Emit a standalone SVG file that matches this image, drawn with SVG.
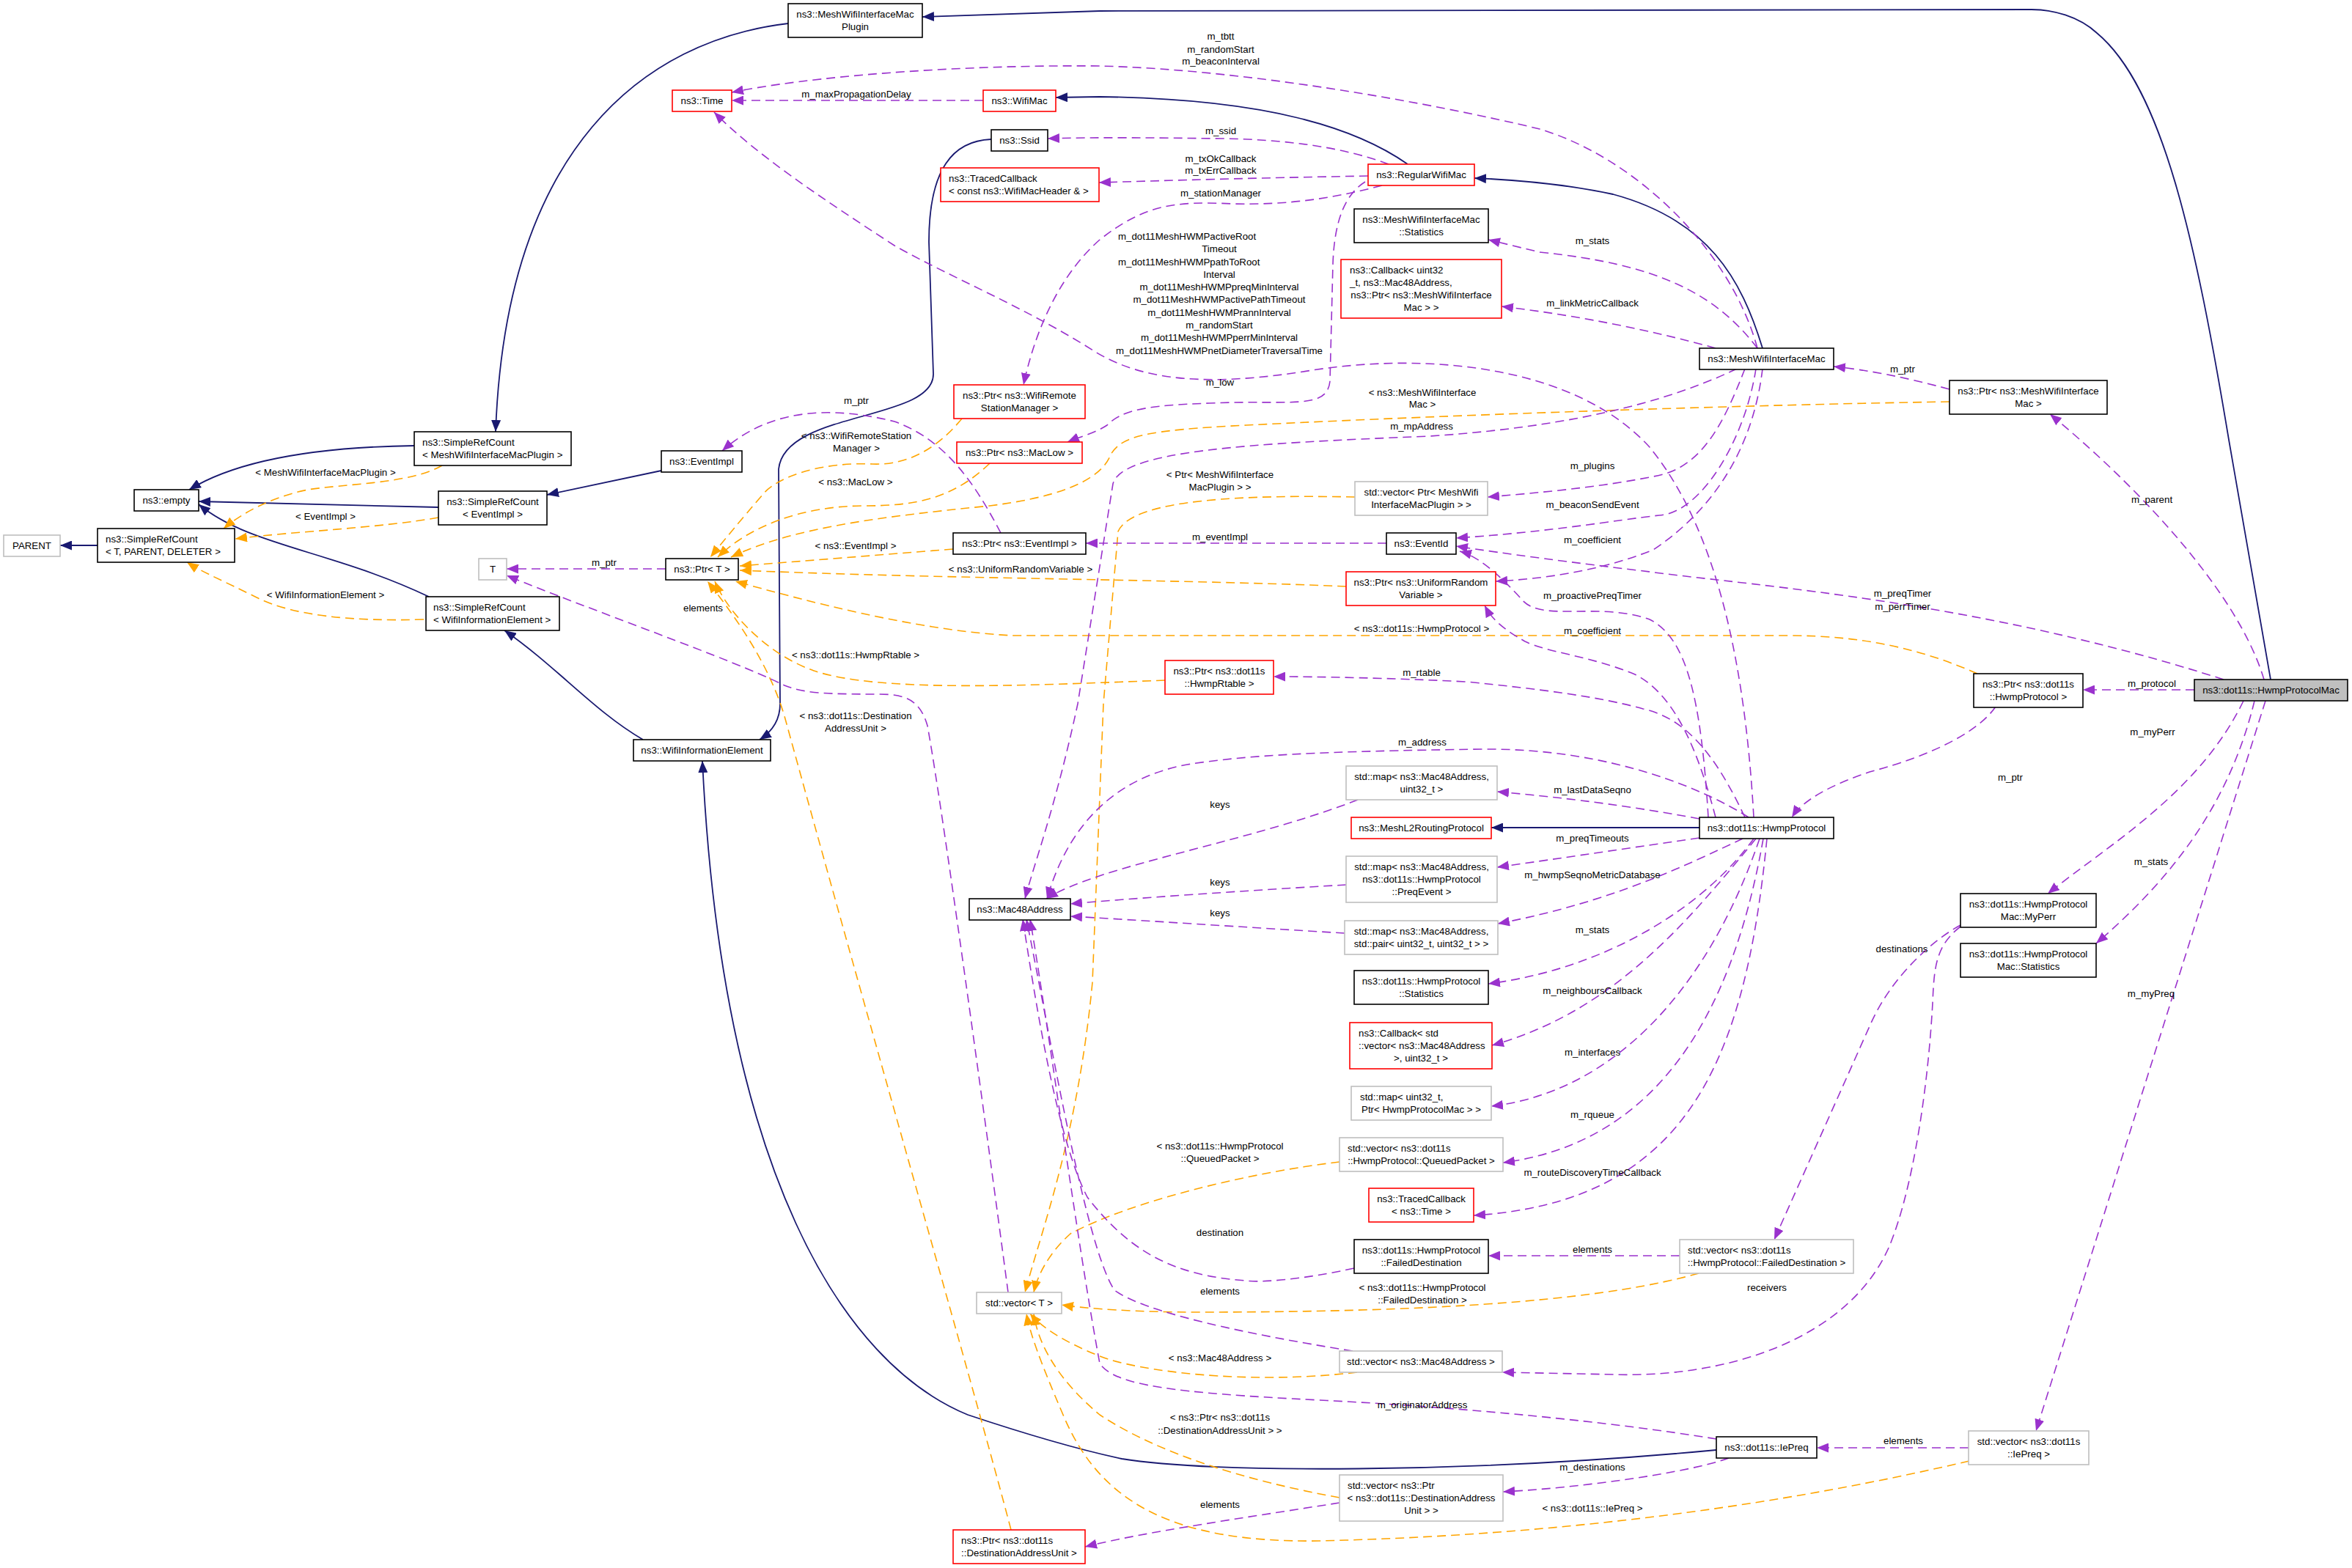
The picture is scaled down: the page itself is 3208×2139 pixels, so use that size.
<svg xmlns="http://www.w3.org/2000/svg" width="3208" height="2139" viewBox="0 0 3208 2139">
<style>
text{font-family:"Liberation Sans",Arial,Helvetica,sans-serif;font-size:13.3px;fill:#000}
.c{text-anchor:middle}
.b{fill:#fff;stroke:#000;stroke-width:1.6}
.r{fill:#fff;stroke:#ff0000;stroke-width:1.6}
.g{fill:#fff;stroke:#bfbfbf;stroke-width:1.6}
.h{fill:#bfbfbf;stroke:#000;stroke-width:1.6}
.inh{fill:none;stroke:#191970;stroke-width:1.8;marker-end:url(#ai)}
.use{fill:none;stroke:#9a32cd;stroke-width:1.6;stroke-dasharray:12,7;marker-end:url(#au)}
.tpl{fill:none;stroke:#ffa500;stroke-width:1.6;stroke-dasharray:12,7;marker-end:url(#at)}
</style>
<defs>
<marker id="ai" markerUnits="userSpaceOnUse" markerWidth="17" markerHeight="13" refX="16" refY="6.5" orient="auto"><path d="M0,0 L16,6.5 L0,13 z" fill="#191970" stroke="none"/></marker>
<marker id="au" markerUnits="userSpaceOnUse" markerWidth="17" markerHeight="13" refX="16" refY="6.5" orient="auto"><path d="M0,0 L16,6.5 L0,13 z" fill="#9a32cd" stroke="none"/></marker>
<marker id="at" markerUnits="userSpaceOnUse" markerWidth="17" markerHeight="13" refX="16" refY="6.5" orient="auto"><path d="M0,0 L16,6.5 L0,13 z" fill="#ffa500" stroke="none"/></marker>
</defs>
<rect width="3208" height="2139" fill="#fff"/>

<g id="edges">
<!-- inheritance -->
<path class="inh" d="M3097,927 L3040,600 C2995,330 2950,120 2860,45 C2835,22 2800,13 2771,13 L1500,15 L1258,23"/>
<path class="inh" d="M1920,224 C1850,175 1730,135 1500,132 L1440,133"/>
<path class="inh" d="M2404,475 C2375,380 2330,300 2200,265 C2130,250 2060,245 2011,243"/>
<path class="inh" d="M2318,1129 L2034,1129"/>
<path class="inh" d="M1352,190 C1300,192 1267,230 1267,330 L1273,510 C1274,575 1070,560 1062,640 L1064,960 C1064,985 1050,1000 1036,1009"/>
<path class="inh" d="M1075,32 C880,55 690,200 676,589"/>
<path class="inh" d="M565,608 C420,610 320,630 258,668"/>
<path class="inh" d="M598,692 L271,684"/>
<path class="inh" d="M902,642 L746,675"/>
<path class="inh" d="M585,814 C450,750 340,745 271,688"/>
<path class="inh" d="M877,1009 C810,970 760,910 688,860"/>
<path class="inh" d="M133,744 L82,744"/>
<path class="inh" d="M2341,1978 C2000,2010 1650,2010 1530,1990 C1460,1975 1380,1950 1320,1930 C1150,1860 985,1600 958,1038"/>

<!-- template instances -->
<path class="tpl" d="M603,635 C560,660 470,660 420,668 C370,678 330,700 305,721"/>
<path class="tpl" d="M598,706 C520,720 400,725 321,735"/>
<path class="tpl" d="M578,845 C480,848 400,840 350,815 C310,795 275,780 255,767"/>
<path class="tpl" d="M1312,571 C1280,610 1240,635 1190,633 C1120,630 1060,650 1040,675 C1010,710 985,740 969,760"/>
<path class="tpl" d="M1350,632 C1300,680 1250,690 1180,690 C1090,690 1020,720 979,760"/>
<path class="tpl" d="M2659,548 C2400,552 2000,565 1700,580 C1560,587 1530,595 1515,620 C1500,660 1430,680 1350,690 C1200,705 1080,720 997,760"/>
<path class="tpl" d="M1300,749 C1200,757 1100,765 1009,772"/>
<path class="tpl" d="M1836,800 C1600,790 1300,790 1009,778"/>
<path class="tpl" d="M2697,919 C2620,885 2540,867 2440,867 L1380,867 C1250,860 1100,820 1003,793"/>
<path class="tpl" d="M1589,928 C1400,935 1200,945 1110,915 C1040,890 990,830 975,793"/>
<path class="tpl" d="M1379,2087 C1330,1900 1200,1450 1070,977 C1050,910 1010,850 965,793"/>
<path class="tpl" d="M1848,678 C1700,675 1545,680 1525,725 L1505,960 L1490,1340 C1470,1550 1420,1680 1398,1763"/>
<path class="tpl" d="M1827,1585 C1700,1600 1540,1640 1460,1683 C1430,1710 1415,1740 1410,1763"/>
<path class="tpl" d="M2317,1737 C2200,1770 2000,1790 1634,1790 C1550,1790 1480,1785 1448,1780"/>
<path class="tpl" d="M1851,1872 C1700,1890 1550,1870 1500,1850 C1450,1830 1420,1810 1405,1792"/>
<path class="tpl" d="M1827,2043 C1700,2020 1580,1983 1500,1930 C1440,1880 1415,1830 1410,1792"/>
<path class="tpl" d="M2686,1993 C2400,2060 2100,2095 1800,2102 C1600,2105 1500,2050 1450,1930 C1420,1860 1405,1820 1400,1792"/>

<!-- usage -->
<path class="use" d="M2397,475 C2360,340 2230,215 2100,176 C1950,140 1700,95 1500,90 C1300,88 1100,105 998,126"/>
<path class="use" d="M1341,137 L998,137"/>
<path class="use" d="M1894,224 C1830,200 1750,190 1665,189 C1580,188 1500,187 1429,189"/>
<path class="use" d="M1866,240 C1700,243 1600,246 1499,249"/>
<path class="use" d="M1885,253 C1820,270 1760,280 1680,278 C1600,274 1560,280 1500,327 C1440,380 1410,460 1396,525"/>
<path class="use" d="M1862,248 C1835,265 1820,300 1818,360 L1814,520 C1810,560 1760,545 1650,550 C1560,553 1530,560 1510,580 C1495,590 1470,597 1456,603"/>
<path class="use" d="M2397,475 C2340,400 2260,360 2100,344 L2030,327"/>
<path class="use" d="M2340,475 C2250,450 2150,430 2048,418"/>
<path class="use" d="M2369,503 C2250,560 2100,585 1950,595 C1700,605 1530,615 1518,660 L1470,960 C1440,1100 1410,1180 1398,1226"/>
<path class="use" d="M2380,503 C2350,580 2320,640 2255,650 C2180,665 2100,672 2029,678"/>
<path class="use" d="M2395,503 C2380,600 2320,700 2263,703 C2200,710 2120,725 1986,734"/>
<path class="use" d="M2404,503 C2390,620 2330,700 2255,750 C2180,780 2100,790 2040,793"/>
<path class="use" d="M2659,531 C2600,515 2550,505 2501,500"/>
<path class="use" d="M3088,927 C3050,800 2900,650 2796,565"/>
<path class="use" d="M3033,927 C2700,820 2400,800 2250,780 C2150,768 2050,755 1986,745"/>
<path class="use" d="M2993,941 L2841,941"/>
<path class="use" d="M2330,1115 C2320,950 2300,870 2250,845 C2180,820 2100,850 2075,817 C2050,790 2020,760 1991,752"/>
<path class="use" d="M2340,1115 C2320,1040 2290,950 2230,920 C2170,895 2110,890 2080,875 C2050,858 2035,845 2025,826"/>
<path class="use" d="M2380,1115 C2340,1030 2300,980 2241,967 C2180,950 2100,940 2000,930 C1900,925 1800,923 1737,923"/>
<path class="use" d="M2392,1115 C2380,900 2340,720 2250,610 C2150,500 1950,480 1790,505 C1650,528 1560,520 1494,480 C1400,420 1300,380 1220,335 C1120,270 1030,210 974,153"/>
<path class="use" d="M2385,1115 C2330,1080 2200,1020 2020,1022 C1800,1025 1700,1030 1619,1043 C1500,1065 1450,1150 1428,1226"/>
<path class="use" d="M2318,1117 C2200,1095 2100,1085 2042,1080"/>
<path class="use" d="M2722,964 C2690,1010 2600,1040 2550,1053 C2500,1070 2460,1090 2444,1115"/>
<path class="use" d="M2318,1143 C2200,1160 2100,1175 2042,1183"/>
<path class="use" d="M2377,1144 C2300,1180 2200,1230 2043,1260"/>
<path class="use" d="M2392,1144 C2330,1230 2200,1320 2030,1342"/>
<path class="use" d="M2395,1144 C2300,1260 2200,1380 2035,1426"/>
<path class="use" d="M2400,1144 C2330,1350 2200,1490 2034,1509"/>
<path class="use" d="M2405,1144 C2360,1400 2250,1560 2050,1586"/>
<path class="use" d="M2410,1144 C2380,1450 2300,1640 2010,1658"/>
<path class="use" d="M3060,956 C3000,1080 2880,1150 2793,1219"/>
<path class="use" d="M3075,956 C3040,1100 2960,1200 2859,1287"/>
<path class="use" d="M3090,956 L2777,1952"/>
<path class="use" d="M2674,1262 C2640,1280 2580,1330 2550,1400 L2420,1691"/>
<path class="use" d="M2674,1264 C2640,1290 2638,1320 2636,1368 C2630,1480 2610,1620 2577,1700 C2520,1830 2350,1880 2200,1875 L2049,1872"/>
<path class="use" d="M2291,1713 L2030,1713"/>
<path class="use" d="M1847,1730 C1780,1745 1720,1750 1699,1747 C1600,1740 1540,1707 1483,1633 C1440,1550 1410,1350 1395,1254"/>
<path class="use" d="M1845,1843 C1700,1820 1560,1790 1520,1760 C1480,1700 1430,1400 1400,1254"/>
<path class="use" d="M2341,1963 C2200,1940 2000,1920 1800,1910 C1600,1900 1520,1890 1500,1860 C1470,1700 1430,1400 1405,1254"/>
<path class="use" d="M2358,1989 C2300,2010 2150,2030 2050,2035"/>
<path class="use" d="M1827,2050 C1700,2070 1560,2090 1480,2110"/>
<path class="use" d="M2685,1975 L2478,1975"/>
<path class="use" d="M1852,1091 C1700,1150 1500,1180 1427,1226"/>
<path class="use" d="M1836,1207 C1700,1215 1550,1225 1460,1233"/>
<path class="use" d="M1834,1273 C1700,1265 1550,1255 1460,1250"/>
<path class="use" d="M1365,727 C1330,660 1290,600 1220,575 C1100,545 1030,575 985,615"/>
<path class="use" d="M1891,741 L1481,741"/>
<path class="use" d="M908,776 L691,776"/>
<path class="use" d="M1375,1763 C1340,1500 1285,1100 1265,990 C1255,955 1235,947 1200,947 C1120,947 1095,945 1070,935 C1000,900 800,830 691,785"/>

<!-- edge labels -->
<text class="c" x="1665" y="54">m_tbtt</text>
<text class="c" x="1665" y="72">m_randomStart</text>
<text class="c" x="1665" y="88">m_beaconInterval</text>
<text class="c" x="1168" y="133">m_maxPropagationDelay</text>
<text class="c" x="1665" y="183">m_ssid</text>
<text class="c" x="1665" y="221">m_txOkCallback</text>
<text class="c" x="1665" y="237">m_txErrCallback</text>
<text class="c" x="1665" y="268">m_stationManager</text>
<text x="1525" y="327">m_dot11MeshHWMPactiveRoot</text>
<text class="c" x="1663" y="344">Timeout</text>
<text x="1525" y="362">m_dot11MeshHWMPpathToRoot</text>
<text class="c" x="1663" y="379">Interval</text>
<text class="c" x="1663" y="396">m_dot11MeshHWMPpreqMinInterval</text>
<text class="c" x="1663" y="413">m_dot11MeshHWMPactivePathTimeout</text>
<text class="c" x="1663" y="431">m_dot11MeshHWMPrannInterval</text>
<text class="c" x="1663" y="448">m_randomStart</text>
<text class="c" x="1663" y="465">m_dot11MeshHWMPperrMinInterval</text>
<text class="c" x="1663" y="483">m_dot11MeshHWMPnetDiameterTraversalTime</text>
<text class="c" x="2172" y="333">m_stats</text>
<text class="c" x="2172" y="418">m_linkMetricCallback</text>
<text class="c" x="2595" y="508">m_ptr</text>
<text class="c" x="1664" y="526">m_low</text>
<text class="c" x="1940" y="540">&lt; ns3::MeshWifiInterface</text>
<text class="c" x="1940" y="556">Mac &gt;</text>
<text class="c" x="1939" y="586">m_mpAddress</text>
<text class="c" x="1168" y="599">&lt; ns3::WifiRemoteStation</text>
<text class="c" x="1168" y="616">Manager &gt;</text>
<text class="c" x="1168" y="551">m_ptr</text>
<text class="c" x="444" y="649">&lt; MeshWifiInterfaceMacPlugin &gt;</text>
<text class="c" x="444" y="709">&lt; EventImpl &gt;</text>
<text class="c" x="444" y="816">&lt; WifiInformationElement &gt;</text>
<text class="c" x="824" y="772">m_ptr</text>
<text class="c" x="959" y="834">elements</text>
<text class="c" x="1167" y="662">&lt; ns3::MacLow &gt;</text>
<text class="c" x="1664" y="652">&lt; Ptr&lt; MeshWifiInterface</text>
<text class="c" x="1664" y="669">MacPlugin &gt; &gt;</text>
<text class="c" x="2172" y="640">m_plugins</text>
<text class="c" x="2172" y="693">m_beaconSendEvent</text>
<text class="c" x="2935" y="686">m_parent</text>
<text class="c" x="1664" y="737">m_eventImpl</text>
<text class="c" x="2172" y="741">m_coefficient</text>
<text class="c" x="1167" y="749">&lt; ns3::EventImpl &gt;</text>
<text class="c" x="1392" y="781">&lt; ns3::UniformRandomVariable &gt;</text>
<text class="c" x="2172" y="817">m_proactivePreqTimer</text>
<text class="c" x="2595" y="814">m_preqTimer</text>
<text class="c" x="2595" y="832">m_perrTimer</text>
<text class="c" x="1939" y="862">&lt; ns3::dot11s::HwmpProtocol &gt;</text>
<text class="c" x="2172" y="865">m_coefficient</text>
<text class="c" x="1167" y="898">&lt; ns3::dot11s::HwmpRtable &gt;</text>
<text class="c" x="1939" y="922">m_rtable</text>
<text class="c" x="2935" y="937">m_protocol</text>
<text class="c" x="1167" y="981">&lt; ns3::dot11s::Destination</text>
<text class="c" x="1167" y="998">AddressUnit &gt;</text>
<text class="c" x="2936" y="1003">m_myPerr</text>
<text class="c" x="1940" y="1017">m_address</text>
<text class="c" x="2742" y="1065">m_ptr</text>
<text class="c" x="2172" y="1082">m_lastDataSeqno</text>
<text class="c" x="1664" y="1102">keys</text>
<text class="c" x="2172" y="1148">m_preqTimeouts</text>
<text class="c" x="2934" y="1180">m_stats</text>
<text class="c" x="2172" y="1198">m_hwmpSeqnoMetricDatabase</text>
<text class="c" x="1664" y="1208">keys</text>
<text class="c" x="1664" y="1250">keys</text>
<text class="c" x="2172" y="1273">m_stats</text>
<text class="c" x="2594" y="1299">destinations</text>
<text class="c" x="2172" y="1356">m_neighboursCallback</text>
<text class="c" x="2934" y="1360">m_myPreq</text>
<text class="c" x="2172" y="1440">m_interfaces</text>
<text class="c" x="2172" y="1525">m_rqueue</text>
<text class="c" x="1664" y="1568">&lt; ns3::dot11s::HwmpProtocol</text>
<text class="c" x="1664" y="1585">::QueuedPacket &gt;</text>
<text class="c" x="2172" y="1604">m_routeDiscoveryTimeCallback</text>
<text class="c" x="1664" y="1686">destination</text>
<text class="c" x="2172" y="1709">elements</text>
<text class="c" x="2410" y="1761">receivers</text>
<text class="c" x="1664" y="1766">elements</text>
<text class="c" x="1940" y="1761">&lt; ns3::dot11s::HwmpProtocol</text>
<text class="c" x="1940" y="1778">::FailedDestination &gt;</text>
<text class="c" x="1664" y="1857">&lt; ns3::Mac48Address &gt;</text>
<text class="c" x="1940" y="1921">m_originatorAddress</text>
<text class="c" x="1664" y="1938">&lt; ns3::Ptr&lt; ns3::dot11s</text>
<text class="c" x="1664" y="1956">::DestinationAddressUnit &gt; &gt;</text>
<text class="c" x="2596" y="1970">elements</text>
<text class="c" x="2172" y="2006">m_destinations</text>
<text class="c" x="1664" y="2057">elements</text>
<text class="c" x="2172" y="2062">&lt; ns3::dot11s::IePreq &gt;</text>
</g>

<g id="n_plugin"><rect class="b" x="1075" y="5" width="183" height="46"/><text class="c" x="1166.5" y="24">ns3::MeshWifiInterfaceMac</text><text class="c" x="1166.5" y="41">Plugin</text></g>
<g id="n_time"><rect class="r" x="917" y="123" width="81" height="29"/><text class="c" x="957.5" y="142">ns3::Time</text></g>
<g id="n_wifimac"><rect class="r" x="1341" y="123" width="99" height="29"/><text class="c" x="1390.5" y="142">ns3::WifiMac</text></g>
<g id="n_ssid"><rect class="b" x="1352" y="177" width="77" height="29"/><text class="c" x="1390.5" y="196">ns3::Ssid</text></g>
<g id="n_tracedcb_hdr"><rect class="r" x="1283" y="229" width="216" height="46"/><text x="1294" y="248">ns3::TracedCallback</text><text x="1294" y="265">&lt; const ns3::WifiMacHeader &amp; &gt;</text></g>
<g id="n_regularwifimac"><rect class="r" x="1866" y="224" width="145" height="29"/><text class="c" x="1938.5" y="243">ns3::RegularWifiMac</text></g>
<g id="n_mwim_stats"><rect class="b" x="1847" y="285" width="183" height="46"/><text class="c" x="1938.5" y="304">ns3::MeshWifiInterfaceMac</text><text class="c" x="1938.5" y="321">::Statistics</text></g>
<g id="n_callback_metric"><rect class="r" x="1829" y="354" width="219" height="80"/><text x="1841" y="373">ns3::Callback&lt; uint32</text><text x="1841" y="390">_t, ns3::Mac48Address,</text><text class="c" x="1938.5" y="407">ns3::Ptr&lt; ns3::MeshWifiInterface</text><text class="c" x="1938.5" y="424">Mac &gt; &gt;</text></g>
<g id="n_mwim"><rect class="b" x="2318" y="475" width="183" height="29"/><text class="c" x="2409.5" y="494">ns3::MeshWifiInterfaceMac</text></g>
<g id="n_ptr_mwim"><rect class="b" x="2659" y="519" width="215" height="46"/><text class="c" x="2766.5" y="538">ns3::Ptr&lt; ns3::MeshWifiInterface</text><text class="c" x="2766.5" y="555">Mac &gt;</text></g>
<g id="n_ptr_wrsm"><rect class="r" x="1301" y="525" width="179" height="46"/><text class="c" x="1390.5" y="544">ns3::Ptr&lt; ns3::WifiRemote</text><text class="c" x="1390.5" y="561">StationManager &gt;</text></g>
<g id="n_ptr_maclow"><rect class="r" x="1305" y="603" width="171" height="29"/><text class="c" x="1390.5" y="622">ns3::Ptr&lt; ns3::MacLow &gt;</text></g>
<g id="n_src_plugin"><rect class="b" x="565" y="589" width="214" height="46"/><text x="576" y="608">ns3::SimpleRefCount</text><text x="576" y="625">&lt; MeshWifiInterfaceMacPlugin &gt;</text></g>
<g id="n_eventimpl"><rect class="b" x="902" y="615" width="110" height="29"/><text class="c" x="957" y="634">ns3::EventImpl</text></g>
<g id="n_empty"><rect class="b" x="183" y="668" width="88" height="29"/><text class="c" x="227" y="687">ns3::empty</text></g>
<g id="n_src_eventimpl"><rect class="b" x="598" y="670" width="148" height="46"/><text class="c" x="672" y="689">ns3::SimpleRefCount</text><text class="c" x="672" y="706">&lt; EventImpl &gt;</text></g>
<g id="n_parent"><rect class="g" x="5" y="730" width="77" height="29"/><text class="c" x="43.5" y="749">PARENT</text></g>
<g id="n_src_tpd"><rect class="b" x="133" y="721" width="187" height="46"/><text x="144" y="740">ns3::SimpleRefCount</text><text x="144" y="757">&lt; T, PARENT, DELETER &gt;</text></g>
<g id="n_t"><rect class="g" x="653" y="762" width="38" height="29"/><text class="c" x="672" y="781">T</text></g>
<g id="n_ptr_t"><rect class="b" x="908" y="762" width="99" height="29"/><text class="c" x="957.5" y="781">ns3::Ptr&lt; T &gt;</text></g>
<g id="n_src_wie"><rect class="b" x="581" y="814" width="182" height="46"/><text x="591" y="833">ns3::SimpleRefCount</text><text x="591" y="850">&lt; WifiInformationElement &gt;</text></g>
<g id="n_ptr_eventimpl"><rect class="b" x="1300" y="727" width="181" height="29"/><text class="c" x="1390.5" y="746">ns3::Ptr&lt; ns3::EventImpl &gt;</text></g>
<g id="n_vec_plugin"><rect class="g" x="1848" y="657" width="181" height="46"/><text class="c" x="1938.5" y="676">std::vector&lt; Ptr&lt; MeshWifi</text><text class="c" x="1938.5" y="693">InterfaceMacPlugin &gt; &gt;</text></g>
<g id="n_eventid"><rect class="b" x="1891" y="727" width="95" height="29"/><text class="c" x="1938.5" y="746">ns3::EventId</text></g>
<g id="n_ptr_urv"><rect class="r" x="1836" y="780" width="204" height="46"/><text class="c" x="1938" y="799">ns3::Ptr&lt; ns3::UniformRandom</text><text class="c" x="1938" y="816">Variable &gt;</text></g>
<g id="n_ptr_rtable"><rect class="r" x="1589" y="901" width="148" height="46"/><text class="c" x="1663" y="920">ns3::Ptr&lt; ns3::dot11s</text><text class="c" x="1663" y="937">::HwmpRtable &gt;</text></g>
<g id="n_ptr_hwmp"><rect class="b" x="2692" y="919" width="149" height="46"/><text class="c" x="2766.5" y="938">ns3::Ptr&lt; ns3::dot11s</text><text class="c" x="2766.5" y="955">::HwmpProtocol &gt;</text></g>
<g id="n_hwmpmac"><rect class="h" x="2993" y="927" width="209" height="29"/><text class="c" x="3097.5" y="946">ns3::dot11s::HwmpProtocolMac</text></g>
<g id="n_wie"><rect class="b" x="864" y="1009" width="187" height="29"/><text class="c" x="957.5" y="1028">ns3::WifiInformationElement</text></g>
<g id="n_map_seqno"><rect class="g" x="1836" y="1045" width="206" height="46"/><text class="c" x="1939" y="1064">std::map&lt; ns3::Mac48Address,</text><text class="c" x="1939" y="1081">uint32_t &gt;</text></g>
<g id="n_meshl2"><rect class="r" x="1843" y="1115" width="191" height="29"/><text class="c" x="1938.5" y="1134">ns3::MeshL2RoutingProtocol</text></g>
<g id="n_hwmp"><rect class="b" x="2318" y="1115" width="183" height="29"/><text class="c" x="2409.5" y="1134">ns3::dot11s::HwmpProtocol</text></g>
<g id="n_map_preq"><rect class="g" x="1836" y="1168" width="206" height="63"/><text class="c" x="1939" y="1187">std::map&lt; ns3::Mac48Address,</text><text class="c" x="1939" y="1204">ns3::dot11s::HwmpProtocol</text><text class="c" x="1939" y="1221">::PreqEvent &gt;</text></g>
<g id="n_mac48"><rect class="b" x="1322" y="1226" width="138" height="29"/><text class="c" x="1391" y="1245">ns3::Mac48Address</text></g>
<g id="n_map_pair"><rect class="g" x="1834" y="1256" width="209" height="46"/><text class="c" x="1938.5" y="1275">std::map&lt; ns3::Mac48Address,</text><text class="c" x="1938.5" y="1292">std::pair&lt; uint32_t, uint32_t &gt; &gt;</text></g>
<g id="n_myperr"><rect class="b" x="2674" y="1219" width="185" height="46"/><text class="c" x="2766.5" y="1238">ns3::dot11s::HwmpProtocol</text><text class="c" x="2766.5" y="1255">Mac::MyPerr</text></g>
<g id="n_hpm_stats"><rect class="b" x="2674" y="1287" width="185" height="46"/><text class="c" x="2766.5" y="1306">ns3::dot11s::HwmpProtocol</text><text class="c" x="2766.5" y="1323">Mac::Statistics</text></g>
<g id="n_hp_stats"><rect class="b" x="1847" y="1324" width="183" height="46"/><text class="c" x="1938.5" y="1343">ns3::dot11s::HwmpProtocol</text><text class="c" x="1938.5" y="1360">::Statistics</text></g>
<g id="n_callback_nb"><rect class="r" x="1841" y="1395" width="194" height="63"/><text x="1853" y="1414">ns3::Callback&lt; std</text><text x="1853" y="1431">::vector&lt; ns3::Mac48Address</text><text class="c" x="1938" y="1448">&gt;, uint32_t &gt;</text></g>
<g id="n_map_if"><rect class="g" x="1843" y="1482" width="191" height="46"/><text x="1855" y="1501">std::map&lt; uint32_t,</text><text class="c" x="1938.5" y="1518">Ptr&lt; HwmpProtocolMac &gt; &gt;</text></g>
<g id="n_vec_qp"><rect class="g" x="1827" y="1552" width="223" height="46"/><text x="1838" y="1571">std::vector&lt; ns3::dot11s</text><text class="c" x="1938.5" y="1588">::HwmpProtocol::QueuedPacket &gt;</text></g>
<g id="n_tracedcb_time"><rect class="r" x="1867" y="1621" width="143" height="46"/><text class="c" x="1938.5" y="1640">ns3::TracedCallback</text><text class="c" x="1938.5" y="1657">&lt; ns3::Time &gt;</text></g>
<g id="n_faileddest"><rect class="b" x="1847" y="1691" width="183" height="46"/><text class="c" x="1938.5" y="1710">ns3::dot11s::HwmpProtocol</text><text class="c" x="1938.5" y="1727">::FailedDestination</text></g>
<g id="n_vec_fd"><rect class="g" x="2291" y="1691" width="237" height="46"/><text x="2302" y="1710">std::vector&lt; ns3::dot11s</text><text class="c" x="2409.5" y="1727">::HwmpProtocol::FailedDestination &gt;</text></g>
<g id="n_vec_t"><rect class="g" x="1332" y="1763" width="116" height="29"/><text class="c" x="1390" y="1782">std::vector&lt; T &gt;</text></g>
<g id="n_vec_mac48"><rect class="g" x="1827" y="1843" width="222" height="29"/><text class="c" x="1938" y="1862">std::vector&lt; ns3::Mac48Address &gt;</text></g>
<g id="n_iepreq"><rect class="b" x="2341" y="1960" width="137" height="29"/><text class="c" x="2409.5" y="1979">ns3::dot11s::IePreq</text></g>
<g id="n_vec_iepreq"><rect class="g" x="2685" y="1952" width="164" height="46"/><text class="c" x="2767" y="1971">std::vector&lt; ns3::dot11s</text><text class="c" x="2767" y="1988">::IePreq &gt;</text></g>
<g id="n_vec_ptr_dau"><rect class="g" x="1827" y="2012" width="223" height="63"/><text x="1838" y="2031">std::vector&lt; ns3::Ptr</text><text class="c" x="1938.5" y="2048">&lt; ns3::dot11s::DestinationAddress</text><text class="c" x="1938.5" y="2065">Unit &gt; &gt;</text></g>
<g id="n_ptr_dau"><rect class="r" x="1300" y="2087" width="180" height="46"/><text x="1311" y="2106">ns3::Ptr&lt; ns3::dot11s</text><text x="1311" y="2123">::DestinationAddressUnit &gt;</text></g>
</svg>
